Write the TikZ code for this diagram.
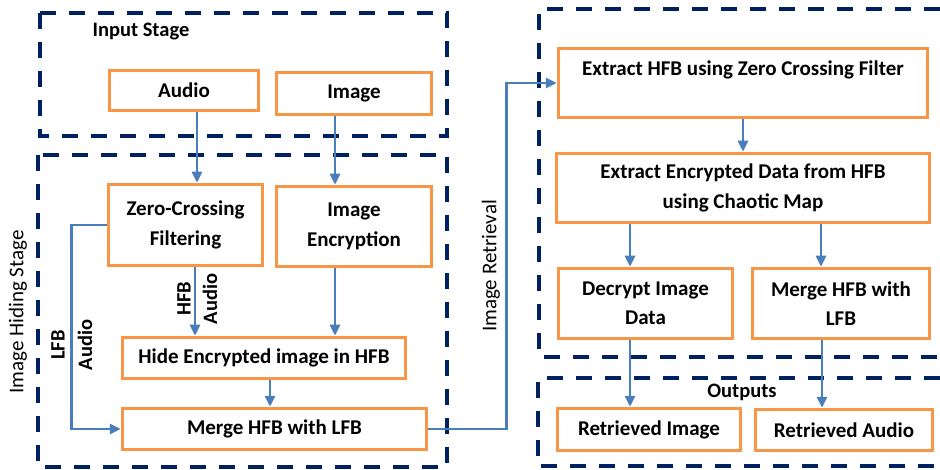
\documentclass[tikz,border=0pt]{standalone}
\usepackage{fontspec}
\setmainfont{Carlito}
\usetikzlibrary{arrows.meta}
\definecolor{boxorange}{RGB}{247,150,70}
\definecolor{arrowblue}{RGB}{74,126,187}
\definecolor{stagenavy}{RGB}{0,32,96}

\begin{document}
\begin{tikzpicture}[x=1pt,y=-1pt,
  blk/.style={draw=boxorange,line width=3.5pt,fill=white,align=center,inner sep=2pt,
    font=\fontsize{21}{29.5}\selectfont\bfseries},
  stage/.style={draw=stagenavy,line width=4pt,dash pattern=on 16pt off 13pt},
  flow/.style={draw=arrowblue,line width=2.7pt,-{Triangle[length=11pt,width=10pt]}},
  lbl/.style={font=\fontsize{20.5}{24}\selectfont\bfseries},
  vlbl/.style={lbl,rotate=90},
  side/.style={font=\fontsize{21}{24}\selectfont,rotate=90}]

\useasboundingbox (0,0) rectangle (940,470);

\draw[stage] (40,13) rectangle (447,136);
\draw[stage] (38,155) rectangle (447,467);
\draw[stage] (940,9) -- (539,9) -- (539,357) -- (940,357);
\draw[stage] (940,378) -- (538,378) -- (538,466) -- (940,466);

\node[lbl,anchor=west] (instage) at (89,32) {Input Stage};
\node[side] (hidestage) at (18,312) {Image Hiding Stage};
\node[side] (retrieval) at (491,266) {Image Retrieval};
\node[lbl] (outputs) at (742,392) {Outputs};

\node[blk,minimum width=149pt,minimum height=40pt] (audio) at (184,90.5) {Audio};
\node[blk,minimum width=155pt,minimum height=42pt] (image) at (354,93.5) {Image};
\node[blk,minimum width=154pt,minimum height=81pt] (zcf) at (185.5,225) {Zero-Crossing\\Filtering};
\node[blk,minimum width=155pt,minimum height=80pt] (enc) at (354,226.5) {Image\\Encryption};
\node[blk,minimum width=283pt,minimum height=41pt] (hide) at (264,358) {Hide Encrypted image in HFB};
\node[blk,minimum width=304pt,minimum height=41pt] (merge) at (274.5,429) {Merge HFB with LFB};

\node[blk,minimum width=369pt,minimum height=69pt] (exhfb) at (743,83) {Extract HFB using Zero Crossing Filter\\ \mbox{}};
\node[blk,minimum width=373pt,minimum height=69pt] (exdata) at (743,188) {Extract Encrypted Data from HFB\\using Chaotic Map};
\node[blk,minimum width=174pt,minimum height=70pt] (decrypt) at (645.5,303.5) {Decrypt Image\\Data};
\node[blk,minimum width=177pt,minimum height=70pt] (mergelfb) at (841,303.5) {Merge HFB with\\LFB};
\node[blk,minimum width=183pt,minimum height=42pt] (retimage) at (649,429.5) {Retrieved Image};
\node[blk,minimum width=177pt,minimum height=41pt] (retaudio) at (844,430) {Retrieved Audio};

\node[vlbl] (hfb) at (184,299) {HFB};
\node[vlbl] (hfbaudio) at (210,299) {Audio};
\node[vlbl] (lfb) at (58,345) {LFB};
\node[vlbl] (lfbaudio) at (85,345) {Audio};

\draw[flow] ([xshift=13pt]audio.south) -- ([xshift=13pt]audio.south |- zcf.north);
\draw[flow] ([xshift=-19pt]image.south) -- ([xshift=-19pt]image.south |- enc.north);
\draw[flow] ([xshift=9.5pt]zcf.south) -- ([xshift=9.5pt]zcf.south |- hide.north);
\draw[flow] ([xshift=-19pt]enc.south) -- ([xshift=-19pt]enc.south |- hide.north);
\draw[flow] ([xshift=6pt]hide.south) -- ([xshift=6pt]hide.south |- merge.north);
\draw[flow] (zcf.west) -- ++(-35,0) |- (merge.west);
\draw[flow] (merge.east) -- ++(78,0) |- (exhfb.west);

\draw[flow] (exhfb) -- (exdata);
\draw[flow] ([xshift=-15.5pt]decrypt.north |- exdata.south) -- ([xshift=-15.5pt]decrypt.north);
\draw[flow] ([xshift=-20pt]mergelfb.north |- exdata.south) -- ([xshift=-20pt]mergelfb.north);
\draw[flow] ([xshift=-15.5pt]decrypt.south) -- ([xshift=-15.5pt]decrypt.south |- retimage.north);
\draw[flow] ([xshift=-19pt]mergelfb.south) -- ([xshift=-19pt]mergelfb.south |- retaudio.north);
\end{tikzpicture}
\end{document}
